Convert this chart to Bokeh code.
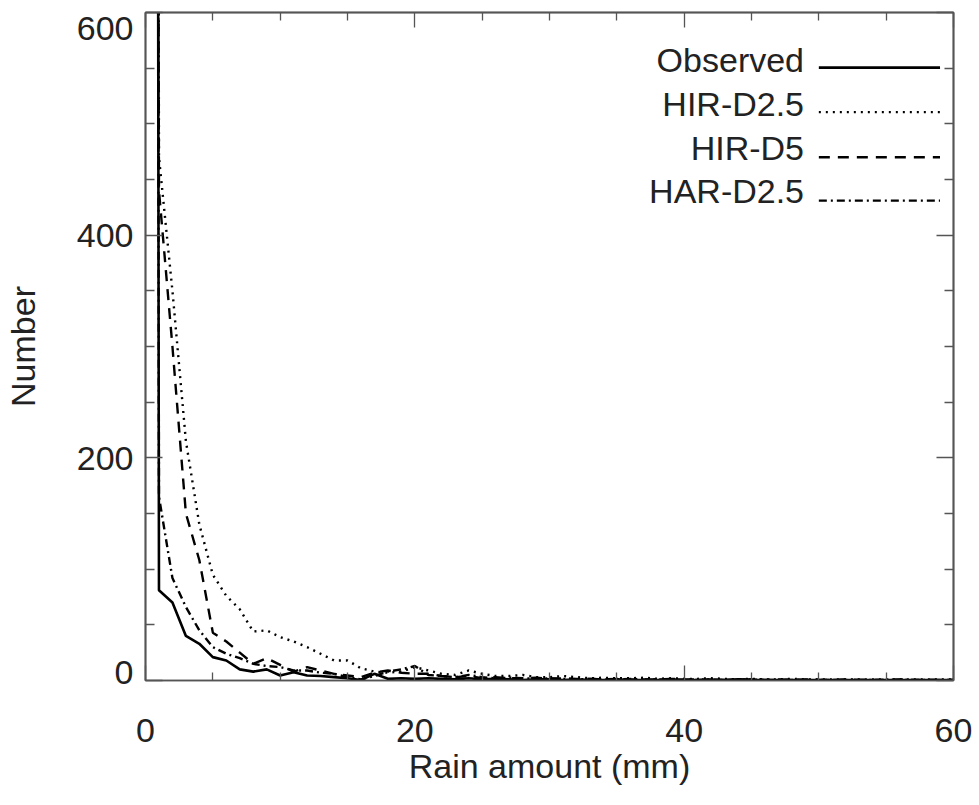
from bokeh.plotting import figure
from bokeh.models import LinearAxis, FixedTicker, Range1d, Label
from bokeh.embed import file_html
from bokeh.resources import INLINE

# ---- data ----
rain_mm = list(range(0, 61))

observed = [9000, 81, 70, 40, 33, 21, 18, 10, 8, 10,
            4.5, 7.5, 4.5, 4, 3, 2, 0.5, 6, 1.5, 2,
            1.5, 2, 1.5, 1, 2, 1, 1.5, 1, 0.5, 1,
            1, 0.5, 1, 0.5, 0.5, 1, 0.5, 0.5, 0.5, 1,
            0.5, 0.5, 0.5, 0.5, 1, 0.5, 0.5, 0.5, 0.5, 0.5,
            0.5, 0.5, 0.5, 0.5, 0.5, 0.5, 0.5, 0.5, 0.5, 0.5, 0.5]

hir_d25 = [7000, 470, 350, 215, 140, 95, 76, 64, 44, 45,
           39, 35, 30, 24, 18, 18, 11, 8, 7, 8,
           12, 9, 6, 5, 9, 6, 4, 4, 5, 3,
           3, 4, 3, 2, 2.5, 2, 2, 2.5, 1.5, 2,
           1.5, 1.5, 2, 1.5, 1, 1.5, 1, 1, 1.5, 1,
           1, 1, 1, 1, 1, 1, 1, 1, 1, 1, 1]

hir_d5 = [6000, 440, 300, 150, 108, 43, 35, 25, 15, 20,
          14, 8, 12, 9, 6, 4.5, 3, 7, 9, 7,
          6, 6, 4, 3, 4, 2, 3, 2, 2, 2.5,
          1.5, 2, 1.5, 1.5, 1, 1.5, 1, 1, 1, 1.5,
          1, 1, 1, 0.5, 1, 1, 0.5, 1, 0.5, 1,
          0.5, 0.5, 1, 0.5, 0.5, 0.5, 1, 0.5, 0.5, 0.5, 0.5]

har_d25 = [8000, 165, 92, 66, 45, 30, 24, 20, 15, 13,
           12, 9, 9, 7, 6, 3, 1, 4, 8, 10,
           13, 5, 4, 3, 5, 3, 2, 2.5, 2, 1.5,
           2, 1.5, 1, 1.5, 1, 1, 1.5, 1, 1, 0.5,
           1, 0.5, 1, 0.5, 0.5, 1, 0.5, 0.5, 0.5, 0.5,
           0.5, 0.5, 0.5, 0.5, 0.5, 0.5, 0.5, 0.5, 0.5, 0.5, 0.5]

series_names = ["Observed", "HIR-D2.5", "HIR-D5", "HAR-D2.5"]
x_major = [0, 20, 40, 60]
x_minor = [v for v in range(0, 61, 5) if v not in x_major]
y_major = [0, 200, 400, 600]
y_minor = [v for v in range(0, 601, 50) if v not in y_major]
# IDL-style end labels are nudged inside the frame height (padding lines)
NB = "\u00a0"
y_tick_labels = {0: "0\n" + NB + "\n" + NB, 200: "200", 400: "400",
                 600: NB + "\n600"}

# ---- styling ----
FONT = "Liberation Sans"
FS = "34px"
TXT = "#222222"
FRAME = "#555555"
dashes = ["solid", "2 5", "11 8", "8 4 2 4"]
widths = [2.6, 2.4, 2.4, 2.4]

p = figure(width=979, height=805,
           x_range=Range1d(0, 60), y_range=Range1d(0, 600),
           output_backend="svg", toolbar_location=None,
           min_border_left=144, min_border_right=26,
           min_border_top=12, min_border_bottom=125,
           background_fill_color="white", border_fill_color="white")
p.grid.visible = False
p.outline_line_color = FRAME
p.outline_line_width = 1.5


def tick_axis(ax, ticks, length, line=True):
    """An axis that only draws inward tick marks (no labels)."""
    ax.ticker = FixedTicker(ticks=[], minor_ticks=ticks)
    ax.axis_line_color = FRAME if line else None
    ax.axis_line_width = 1.5
    ax.minor_tick_line_color = FRAME
    ax.minor_tick_line_width = 1.3
    ax.minor_tick_in = length
    ax.minor_tick_out = 0
    ax.major_tick_in = 0
    ax.major_tick_out = 0
    ax.major_label_standoff = 0


def labelled(ax, majors, minors, lmaj, lmin, standoff):
    ax.ticker = FixedTicker(ticks=majors, minor_ticks=minors)
    ax.axis_line_color = FRAME
    ax.axis_line_width = 1.5
    ax.major_tick_line_color = FRAME
    ax.minor_tick_line_color = FRAME
    ax.major_tick_line_width = 1.3
    ax.minor_tick_line_width = 1.3
    ax.major_tick_in = lmaj
    ax.major_tick_out = 0
    ax.minor_tick_in = lmin
    ax.minor_tick_out = 0
    ax.major_label_text_font = FONT
    ax.major_label_text_font_size = FS
    ax.major_label_text_color = TXT
    ax.major_label_standoff = standoff
    ax.axis_label_text_font = FONT
    ax.axis_label_text_font_size = FS
    ax.axis_label_text_font_style = "normal"
    ax.axis_label_text_color = TXT


# bottom axis: normal labelled axis
xa = p.xaxis[0]
labelled(xa, x_major, x_minor, 15, 8, 38)
xa.axis_label = "Rain amount (mm)"
xa.axis_label_standoff = 2

# left: inner zero-size axis with short ticks, outer labelled axis
ya = p.yaxis[0]
tick_axis(ya, y_minor, 9)
ya_out = LinearAxis()
labelled(ya_out, y_major, [], 17, 0, 12)
ya_out.major_label_overrides = y_tick_labels
ya_out.major_label_text_line_height = 0.22
ya_out.axis_label = "Number"
ya_out.axis_label_standoff = 32
p.add_layout(ya_out, "left")

# mirrored tick marks on top and right
for side, majors, minors, lmaj, lmin in (("above", x_major, x_minor, 15, 8),
                                          ("right", y_major, y_minor, 17, 9)):
    a1 = LinearAxis()
    tick_axis(a1, majors, lmaj)
    a2 = LinearAxis()
    tick_axis(a2, minors, lmin)
    p.add_layout(a1, side)
    p.add_layout(a2, side)

all_series = [observed, hir_d25, hir_d5, har_d25]
for vals, dash, w in zip(all_series, dashes, widths):
    p.line(rain_mm, vals, line_color="black", line_width=w, line_dash=dash)

# ---- legend (text left of line sample) ----
leg_text_x = 48.9
leg_line_x0, leg_line_x1 = 50.0, 59.0
leg_base_y = [556.9, 517.4, 478.7, 440.1]
leg_line_y = [550.5, 510.5, 470.0, 431.0]
for name, dash, w, by, ly in zip(series_names, dashes, widths, leg_base_y, leg_line_y):
    p.add_layout(Label(x=leg_text_x, y=by, text=name, text_align="right",
                       text_baseline="alphabetic", text_font=FONT,
                       text_font_size=FS, text_color=TXT))
    p.line([leg_line_x0, leg_line_x1], [ly, ly], line_color="black",
           line_width=w, line_dash=dash)

open("out.html", "w").write(file_html(p, INLINE))
